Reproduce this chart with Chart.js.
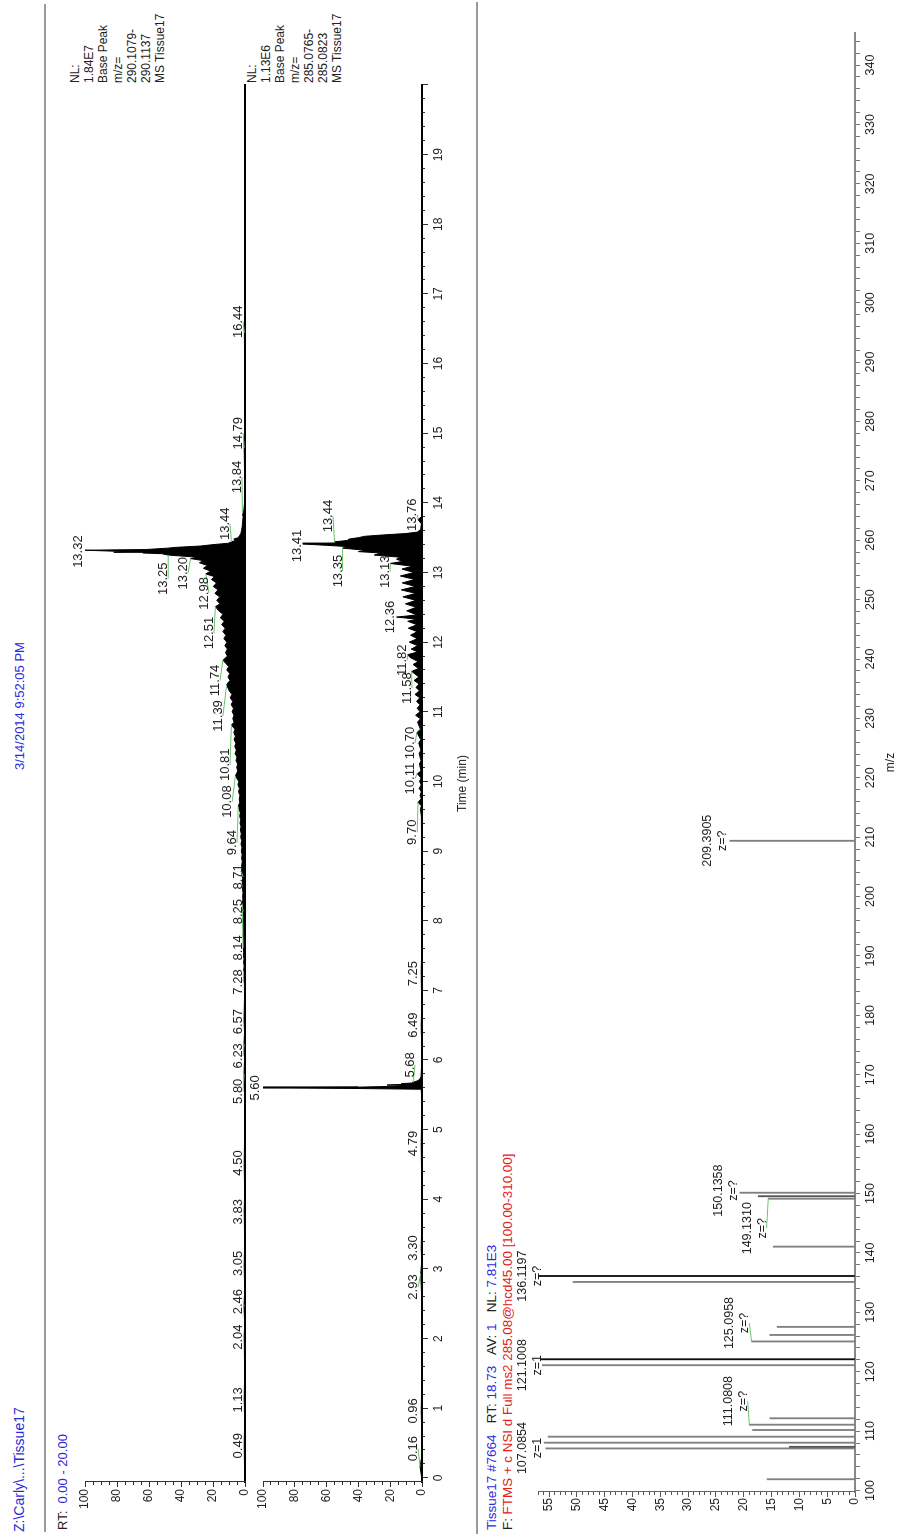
<!DOCTYPE html>
<html>
<head>
<meta charset="utf-8">
<title>Tissue17</title>
<script src="https://cdn.jsdelivr.net/npm/chart.js@4.4.1/dist/chart.umd.min.js"></script>
<style>
  html, body { margin: 0; padding: 0; background: #fff; }
  body { width: 898px; height: 1536px; overflow: hidden; position: relative; }
  /* the report is laid out landscape and turned a quarter to the left */
  #page { position: absolute; left: 0; top: 0; width: 1536px; height: 898px;
          transform-origin: 0 0; transform: translateY(1536px) rotate(-90deg);
          font-family: Arial, "Liberation Sans", sans-serif; }
  #page canvas { position: absolute; left: 0; top: 0; }
  .txt { position: absolute; white-space: pre; line-height: 1; color: #222; }
  .nl { position: absolute; white-space: pre; font-size: 12px; line-height: 14.2px; color: #222; }
  .blue { color: #2b2bd6; }
  .red { color: #e3201b; }
  .rule { position: absolute; background: #9a9a9a; height: 1.5px; }
</style>
</head>
<body>
<div id="page">
  <div class="rule" style="left:4px; width:1528px; top:44px;"></div>
  <div class="rule" style="left:2px; width:1532px; top:476px;"></div>

  <div class="txt blue" style="left:4px; top:12px; font-size:14px;">Z:\Carly\...\Tissue17</div>
  <div class="txt blue" style="left:766px; top:13px; font-size:13px;">3/14/2014 9:52:05 PM</div>
  <div class="txt" style="left:6px; top:56px; font-size:13px;">RT:  <span class="blue">0.00 - 20.00</span></div>

  <div class="nl" style="left:1453px; top:68px;">NL:
1.84E7
Base Peak
m/z=
290.1079-
290.1137
MS Tissue17</div>
  <div class="nl" style="left:1453px; top:245px;">NL:
1.13E6
Base Peak
m/z=
285.0765-
285.0823
MS Tissue17</div>

  <div class="txt" style="left:6px; top:485px; font-size:13.5px;"><span class="blue">Tissue17 #7664</span>   RT: <span class="blue">18.73</span>   AV: <span class="blue">1</span>   NL: <span class="blue">7.81E3</span></div>
  <div class="txt" style="left:6px; top:501px; font-size:13.4px;">F: <span class="red">FTMS + c NSI d Full ms2 285.08@hcd45.00 [100.00-310.00]</span></div>

  <canvas id="chrom1" width="1536" height="898"></canvas>
  <canvas id="chrom2" width="1536" height="898"></canvas>
  <canvas id="spectrum" width="1536" height="898"></canvas>
</div>

<script>
// Base peak chromatogram, m/z 290.1079-290.1137 (time in min, relative abundance)
const chrom1Time = [
  0.00, 0.49, 0.80, 1.13, 1.50, 2.04, 2.20, 2.46, 2.70, 3.05, 3.40, 3.83, 4.10, 4.50, 5.00, 5.50,
  5.80, 6.00, 6.23, 6.40, 6.57, 6.90, 7.10, 7.28,
  7.35, 7.40, 7.45, 7.50, 7.55, 7.60, 7.65, 7.70, 7.75, 7.80, 7.85, 7.90, 7.95, 8.00, 8.05, 8.10,
  8.14, 8.20, 8.25, 8.30, 8.35, 8.40, 8.45, 8.50, 8.55, 8.60, 8.65, 8.71, 8.75, 8.80, 8.85, 8.90,
  8.95, 9.00, 9.05, 9.10, 9.15, 9.20, 9.25, 9.30, 9.35, 9.40, 9.45, 9.50, 9.55, 9.64, 9.70, 9.75,
  9.80, 9.85, 9.90, 9.95, 10.00, 10.08, 10.15, 10.20, 10.25, 10.30, 10.35, 10.40, 10.45, 10.50,
  10.55, 10.60, 10.65, 10.70, 10.75, 10.81, 10.85, 10.90, 10.95, 11.00, 11.05, 11.10, 11.15, 11.20,
  11.25, 11.30, 11.39, 11.45, 11.50, 11.55, 11.60, 11.65, 11.74, 11.80, 11.85, 11.90, 11.95, 12.00,
  12.05, 12.10, 12.15, 12.20, 12.25, 12.30, 12.35, 12.40, 12.45, 12.51, 12.55, 12.60, 12.65, 12.70,
  12.75, 12.80, 12.85, 12.90, 12.94, 12.98, 13.02, 13.06, 13.10, 13.14, 13.17, 13.20, 13.22, 13.25,
  13.27, 13.28, 13.29, 13.30, 13.32, 13.33, 13.35, 13.36, 13.38, 13.40, 13.42, 13.44, 13.46, 13.48,
  13.50, 13.53, 13.56, 13.60, 13.65, 13.70, 13.75, 13.80, 13.84, 13.88, 13.92, 14.00, 14.30, 14.79,
  15.20, 16.00, 16.44, 17.00, 18.00, 19.00, 20.00
];
const chrom1Int = [
  0.2, 0.5, 0.2, 0.5, 0.2, 0.5, 0.2, 0.6, 0.2, 0.5, 0.2, 0.5, 0.2, 0.5, 0.2, 0.2,
  0.6, 0.3, 0.6, 0.3, 0.6, 0.3, 0.4, 0.9,
  0.5, 0.9, 0.6, 1.0, 0.8, 1.1, 0.8, 1.0, 0.9, 1.2, 0.9, 1.1, 1.0, 1.3, 1.0, 1.2,
  1.6, 1.2, 1.9, 1.3, 1.5, 1.2, 1.6, 1.3, 1.7, 1.4, 1.8, 2.4, 1.7, 2.0, 1.7, 2.1,
  1.8, 2.3, 1.9, 2.5, 2.1, 2.7, 2.3, 2.9, 2.5, 3.1, 2.7, 3.3, 2.9, 4.2, 3.3, 3.6,
  3.2, 4.0, 3.5, 4.4, 3.9, 6.0, 4.5, 5.2, 4.6, 5.6, 5.0, 6.2, 5.4, 6.4,
  5.7, 6.8, 6.0, 7.0, 6.3, 8.5, 6.8, 7.6, 6.9, 8.0, 7.2, 8.6, 7.7, 9.2,
  8.2, 9.8, 11.5, 9.4, 10.6, 9.5, 11.4, 10.2, 13.8, 11.0, 12.2, 11.0, 12.6, 11.3,
  13.2, 11.9, 13.8, 12.4, 14.6, 13.0, 15.4, 13.8, 16.4, 18.5, 15.6, 17.6, 15.8, 18.8,
  16.9, 19.8, 17.8, 21.0, 19.0, 24.5, 21.5, 26.0, 23.5, 28.5, 26.0, 34.0, 30.0, 48.0,
  52.0, 64.0, 82.0, 74.0, 100, 62.0, 48.0, 44.0, 28.0, 20.0, 10.5, 8.5, 6.0, 7.0,
  4.2, 3.4, 2.6, 2.2, 1.8, 1.6, 1.4, 1.2, 1.6, 0.8, 0.6, 0.3, 0.2, 0.5,
  0.2, 0.2, 0.4, 0.2, 0.2, 0.2, 0.2
];
// labelled apexes, where each label sits (time) and the abundance of its baseline
const chrom1Labels  = [0.49, 1.13, 2.04, 2.46, 3.05, 3.83, 4.50, 5.80, 6.23, 6.57, 7.28, 8.14, 8.25, 8.71,
                       9.64, 10.08, 10.81, 11.39, 11.74, 12.51, 12.98, 13.20, 13.25, 13.32, 13.44, 13.84, 14.79, 16.44];
const chrom1LabelAt = [0.46, 1.12, 2.02, 2.53, 3.08, 3.82, 4.52, 5.55, 6.06, 6.55, 7.12, 7.61, 8.13, 8.63,
                       9.12, 9.71, 10.24, 10.94, 11.45, 12.13, 12.70, 12.99, 12.91, 13.30, 13.70, 14.37, 15.00, 16.60];
const chrom1LabelLevel = [1.2, 1.2, 1.2, 1.2, 1.2, 1.2, 1.2, 1.2, 1.2, 1.2, 1.2, 1.2, 1.2, 1.2,
                          5.0, 8.0, 9.4, 13.8, 15.6, 19.4, 22.5, 35.6, 48.0, 101.2, 9.4, 1.9, 1.2, 1.2];

// Base peak chromatogram, m/z 285.0765-285.0823
const chrom2Time = [
  0.00, 0.16, 0.30, 0.70, 0.96, 1.30, 2.00, 2.60, 2.93, 3.10, 3.30, 3.60, 4.20, 4.79, 5.20, 5.50,
  5.58, 5.59, 5.60, 5.61, 5.62, 5.63, 5.64, 5.65, 5.66, 5.67, 5.68, 5.70, 5.72, 5.76, 5.90, 6.20,
  6.49, 6.80, 7.25, 7.60, 8.20, 8.80, 9.20, 9.50,
  9.60, 9.65, 9.70, 9.75, 9.80, 9.85, 9.90, 9.95, 10.00, 10.05, 10.11, 10.15, 10.25, 10.30, 10.40,
  10.45, 10.55, 10.60, 10.70, 10.75, 10.85, 10.90, 10.95, 11.00, 11.05, 11.10, 11.15, 11.20, 11.25,
  11.30, 11.35, 11.40, 11.45, 11.50, 11.58, 11.62, 11.68, 11.72, 11.78, 11.82, 11.86, 11.90, 11.95,
  12.00, 12.05, 12.10, 12.15, 12.20, 12.25, 12.30, 12.33, 12.36, 12.39, 12.45, 12.50, 12.55, 12.60,
  12.65, 12.70, 12.75, 12.80, 12.85, 12.90, 12.95, 13.00, 13.05, 13.09, 13.13, 13.16, 13.19, 13.22,
  13.25, 13.28, 13.30, 13.32, 13.35, 13.37, 13.39, 13.41, 13.42, 13.44, 13.46, 13.48, 13.50, 13.52,
  13.54, 13.56, 13.58, 13.62, 13.70, 13.76, 13.80, 14.50, 20.00
];
const chrom2Int = [
  0.2, 1.2, 0.2, 0.2, 0.5, 0.2, 0.2, 0.2, 0.8, 0.2, 0.5, 0.2, 0.2, 0.5, 0.2, 0.3,
  0.5, 39, 100, 40, 22, 14, 22, 12, 13, 6, 5.5, 3, 1.5, 0.6, 0.3, 0.2,
  0.5, 0.2, 0.5, 0.2, 0.2, 0.3, 0.3, 0.4,
  1.0, 0.4, 2.5, 0.5, 1.2, 0.4, 1.8, 0.5, 1.5, 0.6, 3.0, 0.6, 1.6, 0.6, 1.8,
  0.7, 2.0, 0.8, 3.2, 1.0, 2.8, 1.0, 4.0, 1.2, 3.0, 1.2, 3.4, 1.4, 4.4,
  1.6, 3.8, 1.8, 5.0, 2.0, 6.5, 2.2, 5.6, 2.4, 7.5, 9.0, 2.6, 6.8, 2.8,
  8.0, 3.0, 7.2, 3.0, 8.6, 3.2, 9.0, 3.4, 16.0, 3.4, 9.6, 3.6, 10.4, 3.8,
  12.0, 4.0, 13.0, 4.2, 12.4, 4.6, 13.6, 5.0, 12.6, 6.0, 20.0, 12.0, 16.0, 14.0,
  30.0, 26.0, 40.0, 36.0, 50.0, 45.0, 60.0, 75.0, 52.0, 55.0, 47.0, 46.0, 40.0, 36.0,
  24.0, 10.0, 3.0, 0.8, 0.4, 2.5, 0.3, 0.2, 0.2
];
const chrom2Labels  = [0.16, 0.96, 2.93, 3.30, 4.79, 5.60, 5.68, 6.49, 7.25, 9.70, 10.11, 10.70,
                       11.58, 11.82, 12.36, 13.13, 13.35, 13.41, 13.44, 13.76];
const chrom2LabelAt = [0.42, 0.96, 2.74, 3.30, 4.80, 5.60, 5.93, 6.50, 7.24, 9.27, 10.04, 10.55,
                       11.34, 11.74, 12.36, 13.01, 13.02, 13.38, 13.81, 13.83];
const chrom2LabelLevel = [2.5, 2.5, 2.5, 2.5, 2.5, 102, 4.4, 2.5, 2.5, 3.0, 4.4, 4.4,
                          6.3, 9.4, 17.0, 20.0, 50.0, 75.5, 56.0, 3.0];

// MS2 spectrum of scan #7664 (m/z, relative abundance)
const specMz  = [101.90, 107.0854, 107.35, 108.05, 109.06, 110.19, 111.0808, 112.16, 121.1008, 122.10,
                 125.0958, 126.19, 127.55, 135.12, 136.1197, 141.06, 149.1310, 149.55, 150.1358, 209.3905];
const specInt = [15.8, 55.6, 11.8, 55.9, 55.2, 18.4, 19.0, 15.3, 56.2, 56.6,
                 18.6, 15.3, 14.0, 50.7, 57.0, 14.7, 15.6, 17.4, 20.7, 22.5];
const specLabels  = [107.0854, 111.0808, 121.1008, 125.0958, 136.1197, 149.1310, 150.1358, 209.3905];
const specCharge  = ['z=1', 'z=?', 'z=1', 'z=?', 'z=?', 'z=?', 'z=?', 'z=?'];
const specLabelAt = [107.15, 115.05, 121.10, 128.20, 136.10, 144.16, 150.50, 209.40];
const specLabelLevel = [56.3, 19.3, 56.3, 19.0, 56.3, 15.9, 21.0, 23.0];

// axis ticks
const timeTicks = [0, 1, 2, 3, 4, 5, 6, 7, 8, 9, 10, 11, 12, 13, 14, 15, 16, 17, 18, 19, 20];
const abundTicks = [0, 20, 40, 60, 80, 100];
const specAbundTicks = [0, 5, 10, 15, 20, 25, 30, 35, 40, 45, 50, 55];
const mzTicks = [100, 110, 120, 130, 140, 150, 160, 170, 180, 190, 200, 210, 220,
                 230, 240, 250, 260, 270, 280, 290, 300, 310, 320, 330, 340];

const FONT = 'Arial, "Liberation Sans", sans-serif';
Chart.defaults.font.family = FONT;
Chart.defaults.font.size = 12;
Chart.defaults.color = '#222';

const darkSticks = [122.10, 136.1197];
const midSticks = [107.35, 149.55];

function steps(from, to, step) {
  const out = [];
  for (let v = from; v <= to + 1e-9; v += step) out.push({ value: Math.round(v * 1000) / 1000 });
  return out;
}

function valueAt(xs, ys, x) {
  const i = xs.findIndex(v => Math.abs(v - x) < 1e-9);
  return ys[i];
}

// apex labels with green leaders back to the apex
const peakLabels = {
  id: 'peakLabels',
  afterDatasetsDraw(chart, args, opts) {
    const { ctx, scales: { x, y } } = chart;
    ctx.save();
    ctx.font = opts.font;
    ctx.textAlign = 'center';
    ctx.textBaseline = 'alphabetic';
    opts.items.forEach(item => {
      const px = x.getPixelForValue(item.at), py = y.getPixelForValue(item.peak);
      const lx = x.getPixelForValue(item.labelAt), ly = y.getPixelForValue(item.level);
      if (Math.hypot(lx - px, ly - py) > 4) {
        ctx.strokeStyle = '#6cc46c';
        ctx.lineWidth = 1;
        ctx.beginPath();
        ctx.moveTo(lx, ly);
        ctx.lineTo(px, py);
        ctx.stroke();
      }
      ctx.fillStyle = '#222';
      const n = item.lines.length;
      item.lines.forEach((s, k) => ctx.fillText(s, lx, ly - 1 - (n - 1 - k) * opts.gap));
    });
    ctx.restore();
  }
};

function chromItems(times, ints, labels, at, level) {
  return labels.map((t, i) => ({
    at: t, peak: valueAt(times, ints, t), labelAt: at[i], level: level[i], lines: [t.toFixed(2)]
  }));
}

function abundanceAxes() {
  return {
    y: {
      position: 'left', weight: 1, min: 0, max: 100,
      afterBuildTicks: s => { s.ticks = abundTicks.map(v => ({ value: v })); },
      afterFit: s => { s.width = 40; },
      ticks: { autoSkip: false, padding: 2 },
      grid: { drawOnChartArea: false, tickLength: 5, color: '#333' },
      border: { color: '#333', width: 1 }
    },
    yMinor: {
      position: 'left', weight: 0, min: 0, max: 100,
      afterBuildTicks: s => { s.ticks = steps(0, 100, 5); },
      afterFit: s => { s.width = 0; },
      ticks: { display: false, autoSkip: false },
      grid: { drawOnChartArea: false, tickLength: 3, color: '#333' },
      border: { display: false }
    }
  };
}

function chromDataset(times, ints) {
  return {
    data: times.map((t, i) => ({ x: t, y: ints[i] })),
    borderColor: '#000', backgroundColor: '#000', borderWidth: 1,
    pointRadius: 0, fill: 'origin', tension: 0
  };
}

const common = {
  responsive: false, animation: false, devicePixelRatio: 1,
  events: [],
};

new Chart(document.getElementById('chrom1'), {
  type: 'line',
  data: { datasets: [chromDataset(chrom1Time, chrom1Int)] },
  options: Object.assign({}, common, {
    layout: { padding: { left: 14, right: 85, top: 85, bottom: 653 } },
    plugins: {
      legend: { display: false }, tooltip: { enabled: false },
      peakLabels: { font: '13px ' + FONT, gap: 15,
        items: chromItems(chrom1Time, chrom1Int, chrom1Labels, chrom1LabelAt, chrom1LabelLevel) }
    },
    scales: Object.assign({
      x: {
        type: 'linear', min: -0.06, max: 20,
        afterFit: s => { s.height = 0; },
        ticks: { display: false },
        grid: { display: false },
        border: { color: '#000', width: 2 }
      }
    }, abundanceAxes())
  }),
  plugins: [peakLabels]
});

new Chart(document.getElementById('chrom2'), {
  type: 'line',
  data: { datasets: [chromDataset(chrom2Time, chrom2Int)] },
  options: Object.assign({}, common, {
    layout: { padding: { left: 14, right: 85, top: 263, bottom: 428 } },
    plugins: {
      legend: { display: false }, tooltip: { enabled: false },
      peakLabels: { font: '13px ' + FONT, gap: 15,
        items: chromItems(chrom2Time, chrom2Int, chrom2Labels, chrom2LabelAt, chrom2LabelLevel) }
    },
    scales: Object.assign({
      x: {
        type: 'linear', position: 'bottom', weight: 1, min: -0.06, max: 20,
        afterBuildTicks: s => { s.ticks = timeTicks.map(v => ({ value: v })); },
        afterFit: s => { s.height = 48; },
        ticks: { autoSkip: false, maxRotation: 0, padding: 3, callback: v => (v === 20 ? '' : v) },
        grid: { drawOnChartArea: false, tickLength: 6, color: '#333' },
        border: { color: '#000', width: 2 },
        title: { display: true, text: 'Time (min)', font: { size: 12 }, padding: { top: 0, bottom: 0 } }
      },
      xMinor: {
        type: 'linear', position: 'bottom', weight: 0, min: -0.06, max: 20,
        afterBuildTicks: s => { s.ticks = steps(0, 20, 0.2); },
        afterFit: s => { s.height = 0; },
        ticks: { display: false, autoSkip: false },
        grid: { drawOnChartArea: false, tickLength: 3, color: '#333' },
        border: { display: false }
      }
    }, abundanceAxes())
  }),
  plugins: [peakLabels]
});

new Chart(document.getElementById('spectrum'), {
  type: 'bar',
  data: {
    datasets: [{
      data: specMz.map((m, i) => ({ x: m, y: specInt[i] })),
      backgroundColor: specMz.map(m => darkSticks.includes(m) ? '#111' : midSticks.includes(m) ? '#555' : '#808080'),
      borderWidth: 0, barThickness: 1.2
    }]
  },
  options: Object.assign({}, common, {
    layout: { padding: { left: 4, right: 33, top: 538, bottom: 0 } },
    plugins: {
      legend: { display: false }, tooltip: { enabled: false },
      peakLabels: { font: '12.5px ' + FONT, gap: 15,
        items: specLabels.map((m, i) => ({
          at: m, peak: valueAt(specMz, specInt, m), labelAt: specLabelAt[i], level: specLabelLevel[i],
          lines: [m.toFixed(4), specCharge[i]]
        })) }
    },
    scales: {
      x: {
        type: 'linear', position: 'bottom', min: 99.75, max: 345.4, offset: false,
        afterBuildTicks: s => { s.ticks = steps(100, 344, 2); },
        afterFit: s => { s.height = 43; },
        ticks: { autoSkip: false, maxRotation: 0, padding: 3, font: { size: 12.5 },
                 callback: v => (mzTicks.includes(v) ? v : '') },
        grid: { drawOnChartArea: false, offset: false, tickLength: 5, color: '#777' },
        border: { color: '#888', width: 2 },
        title: { display: true, text: 'm/z', font: { size: 12 }, padding: { top: 0, bottom: 0 } }
      },
      y: {
        position: 'left', weight: 1, min: 0, max: 57,
        afterBuildTicks: s => { s.ticks = specAbundTicks.map(v => ({ value: v })); },
        afterFit: s => { s.width = 40; },
        ticks: { autoSkip: false, padding: 1 },
        grid: { drawOnChartArea: false, tickLength: 5, color: '#555' },
        border: { color: '#666', width: 1 }
      },
      yMinor: {
        position: 'left', weight: 0, min: 0, max: 57,
        afterBuildTicks: s => { s.ticks = steps(0, 57, 1); },
        afterFit: s => { s.width = 0; },
        ticks: { display: false, autoSkip: false },
        grid: { drawOnChartArea: false, tickLength: 3, color: '#555' },
        border: { display: false }
      }
    }
  }),
  plugins: [peakLabels]
});
</script>
</body>
</html>
